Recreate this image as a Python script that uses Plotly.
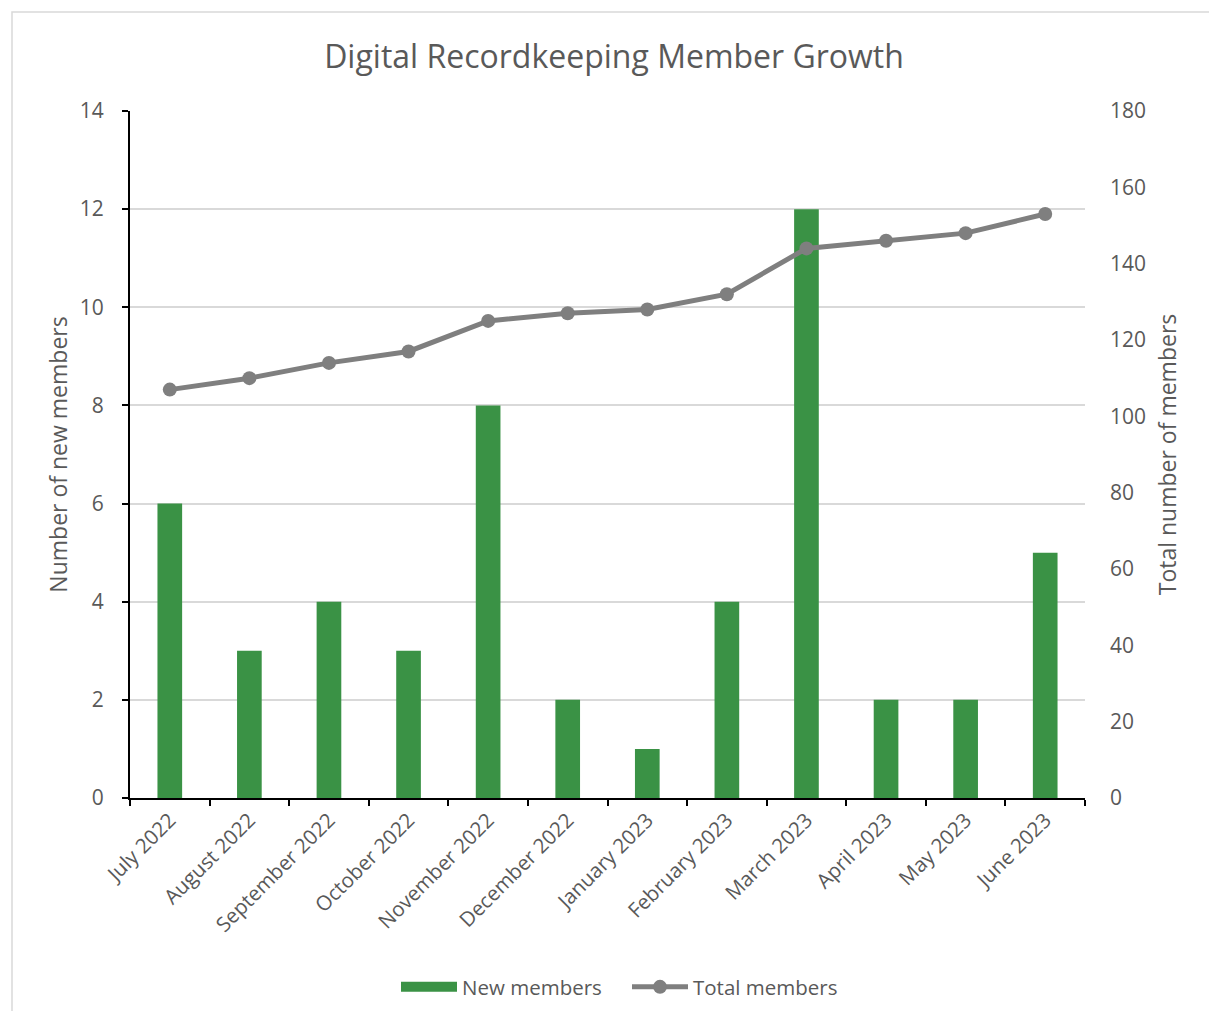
import plotly.graph_objects as go

months = ["July 2022", "August 2022", "September 2022", "October 2022", "November 2022",
          "December 2022", "January 2023", "February 2023", "March 2023", "April 2023",
          "May 2023", "June 2023"]
new_members = [6, 3, 4, 3, 8, 2, 1, 4, 12, 2, 2, 5]
total_members = [107, 110, 114, 117, 125, 127, 128, 132, 144, 146, 148, 153]

FONT = "Open Sans"
GREY = "#595959"
GREEN = "#3A9245"
LINEGREY = "#7F7F7F"

OFF = 8  # page body margin
W, H = 1201, 1003
# plot area in screen coords: x 130..1085, y 111..798
L = 130 - OFF
T = 111 - OFF
R = W - (1085 - OFF)
B = H - (798 - OFF)
pw, ph = W - L - R, H - T - B


def px(xs):
    return (xs - OFF - L) / pw


def py(ys):
    return (H - B - (ys - OFF)) / ph


fig = go.Figure()
fig.add_trace(go.Bar(x=months, y=new_members, name="New members", showlegend=False,
                     marker=dict(color=GREEN, line=dict(width=0)), yaxis="y"))
# legend proxy for bar (wide rectangle)
fig.add_trace(go.Scatter(x=[None], y=[None], name="New members", mode="lines",
                         line=dict(color=GREEN, width=14), yaxis="y", legendrank=1))
fig.add_trace(go.Scatter(x=months, y=total_members, name="Total members", mode="lines+markers",
                         line=dict(color=LINEGREY, width=5),
                         marker=dict(color=LINEGREY, size=14), yaxis="y2", legendrank=2))

fig.update_layout(
    width=W, height=H,
    margin=dict(l=L, r=R, t=T, b=B, autoexpand=False),
    paper_bgcolor="white", plot_bgcolor="white",
    font=dict(family=FONT, color=GREY, size=18),
    title=dict(text="Digital Recordkeeping Member Growth", x=px(614), xanchor="center",
               xref="paper",
               y=1 - (57 - OFF) / H, yanchor="middle", font=dict(size=32, color=GREY, family=FONT)),
    bargap=0.69,
    showlegend=True,
    legend=dict(orientation="h", x=px(627), xanchor="center", y=py(987), yanchor="middle",
                font=dict(size=20.5, color=GREY), itemwidth=56, entrywidth=160,
                entrywidthmode="pixels", traceorder="normal"),
    xaxis=dict(tickangle=-45, showline=True, linecolor="black", linewidth=2,
               ticks="outside", tickson="boundaries", ticklen=6, tickcolor="black", tickwidth=2,
               tickfont=dict(size=20.5, color=GREY), showgrid=False, range=[-0.5, 11.5]),
    yaxis=dict(range=[0, 14], dtick=2, showline=True, linecolor="black", linewidth=2,
               ticks="outside", ticklen=6, tickcolor="black", tickwidth=2,
               showgrid=True, gridcolor="#D9D9D9", gridwidth=2, zeroline=False,
               tickfont=dict(size=21, color=GREY), ticklabelstandoff=14,
               title=dict(text="Number of new members", font=dict(size=23, color=GREY), standoff=6)),
    yaxis2=dict(range=[0, 180], dtick=20, overlaying="y", side="right", showgrid=False,
                showline=False, zeroline=False, ticks="", tickfont=dict(size=21, color=GREY),
                ticklabelstandoff=24,
                title=dict(text="Total number of members", font=dict(size=23, color=GREY), standoff=14)),
    shapes=[dict(type="rect", xref="paper", yref="paper",
                 x0=px(12), x1=px(1240), y0=py(1040), y1=py(12),
                 line=dict(color="#D9D9D9", width=1.5), fillcolor="rgba(0,0,0,0)", layer="below")],
)

fig.write_html("out.html")
